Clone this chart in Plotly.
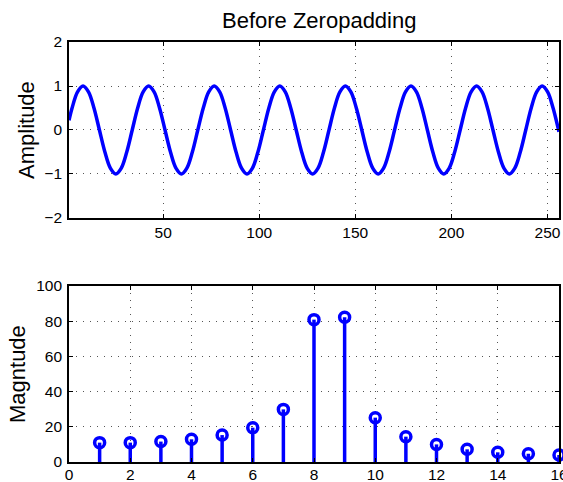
import plotly.graph_objects as go

wave_x = [1, 2.61, 5.46,
          8.30, 11.14, 13.99, 16.83, 19.68, 22.52, 25.37, 28.21, 31.06, 33.90, 36.74, 39.59,
          42.43, 45.28, 48.12, 50.97, 53.81, 56.66, 59.50, 62.34, 65.19, 68.03, 70.88, 73.72,
          76.57, 79.41, 82.26, 85.10, 87.94, 90.79, 93.63, 96.48, 99.32, 102.17, 105.01, 107.86,
          110.70, 113.54, 116.39, 119.23, 122.08, 124.92, 127.77, 130.61, 133.46, 136.30, 139.14, 141.99,
          144.83, 147.68, 150.52, 153.37, 156.21, 159.06, 161.90, 164.74, 167.59, 170.43, 173.28, 176.12,
          178.97, 181.81, 184.66, 187.50, 190.34, 193.19, 196.03, 198.88, 201.72, 204.57, 207.41, 210.26,
          213.10, 215.94, 218.79, 221.63, 224.48, 227.32, 230.17, 233.01, 235.86, 238.70, 241.54, 244.39,
          247.23, 250.08, 252.92, 255.77, 256]
wave_y = [0.22, 0.5, 0.866,
          1, 0.866, 0.5, 0, -0.5, -0.866, -1, -0.866, -0.5, 0, 0.5, 0.866,
          1, 0.866, 0.5, 0, -0.5, -0.866, -1, -0.866, -0.5, 0, 0.5, 0.866,
          1, 0.866, 0.5, 0, -0.5, -0.866, -1, -0.866, -0.5, 0, 0.5, 0.866,
          1, 0.866, 0.5, 0, -0.5, -0.866, -1, -0.866, -0.5, 0, 0.5, 0.866,
          1, 0.866, 0.5, 0, -0.5, -0.866, -1, -0.866, -0.5, 0, 0.5, 0.866,
          1, 0.866, 0.5, 0, -0.5, -0.866, -1, -0.866, -0.5, 0, 0.5, 0.866,
          1, 0.866, 0.5, 0, -0.5, -0.866, -1, -0.866, -0.5, 0, 0.5, 0.866,
          1, 0.866, 0.5, 0, -0.04]

# Bottom: magnitude spectrum bins
bins = list(range(1, 17))
magnitude = [11.0, 11.0, 11.6, 12.9, 15.3, 19.5, 29.9, 80.9, 82.2, 25.2, 14.4, 10.0, 7.2, 5.5, 4.7, 4.0]

title_text = "Before Zeropadding"
top_ylabel = "Amplitude"
bottom_ylabel = "Magntude"
top_xticks = [50, 100, 150, 200, 250]
top_yticks = [-2, -1, 0, 1, 2]
bottom_xticks = [0, 2, 4, 6, 8, 10, 12, 14, 16]
bottom_yticks = [0, 20, 40, 60, 80, 100]

BLUE = "#0000ff"
FONT = "Liberation Sans, Arial, Helvetica, sans-serif"

fig = go.Figure()
fig.add_trace(go.Scatter(x=wave_x, y=wave_y, mode="lines",
                         line=dict(color=BLUE, width=3.5, shape="spline", smoothing=1),
                         xaxis="x", yaxis="y", showlegend=False, hoverinfo="skip"))
fig.add_trace(go.Scatter(x=bins, y=magnitude, mode="markers",
                         marker=dict(symbol="circle-open", size=10, color=BLUE,
                                     line=dict(color=BLUE, width=3.5)),
                         error_y=dict(type="data", symmetric=False, array=[0] * len(bins),
                                      arrayminus=magnitude, color=BLUE, thickness=3.5, width=0),
                         cliponaxis=False,
                         xaxis="x2", yaxis="y2", showlegend=False, hoverinfo="skip"))

axis_common = dict(showline=True, linecolor="black", linewidth=1.7, mirror="ticks",
                   ticks="inside", ticklen=4, tickcolor="black", tickwidth=1,
                   showgrid=True, gridcolor="#555555", gridwidth=1, griddash="1px,6px",
                   zeroline=False, ticklabeloverflow="allow", automargin=False,
                   tickfont=dict(family=FONT, size=15.5, color="black"))

fig.update_layout(
    width=563, height=482,
    margin=dict(l=69, r=4, t=42, b=20, autoexpand=False),
    paper_bgcolor="white", plot_bgcolor="white",
    font=dict(family=FONT, color="black"),
    xaxis=dict(domain=[0, 1], range=[1, 256], tickvals=top_xticks, anchor="y", **axis_common),
    yaxis=dict(domain=[0.581, 1], range=[-2, 2], tickvals=top_yticks, anchor="x",
               ticklabelstandoff=2, **axis_common),
    xaxis2=dict(domain=[0, 1], range=[0, 16], tickvals=bottom_xticks, anchor="y2",
                ticklabelstandoff=-2, **axis_common),
    yaxis2=dict(domain=[0, 0.419], range=[0, 100], tickvals=bottom_yticks, anchor="x2",
                ticklabelstandoff=2, **axis_common),
    annotations=[
        dict(text=title_text, xref="paper", yref="paper", x=(318.5 - 69) / 490, y=1.0,
             yshift=22, xanchor="center", yanchor="middle", showarrow=False,
             font=dict(family=FONT, size=22, color="black")),
        dict(text=top_ylabel, xref="paper", yref="paper", x=-(69 - 27) / 490, y=(1 + 0.581) / 2,
             xanchor="center", yanchor="middle", textangle=-90, showarrow=False,
             font=dict(family=FONT, size=22, color="black")),
        dict(text=bottom_ylabel, xref="paper", yref="paper", x=-(69 - 17) / 490, y=0.419 / 2,
             xanchor="center", yanchor="middle", textangle=-90, showarrow=False,
             font=dict(family=FONT, size=22, color="black")),
    ],
)

fig.write_html("out.html")
